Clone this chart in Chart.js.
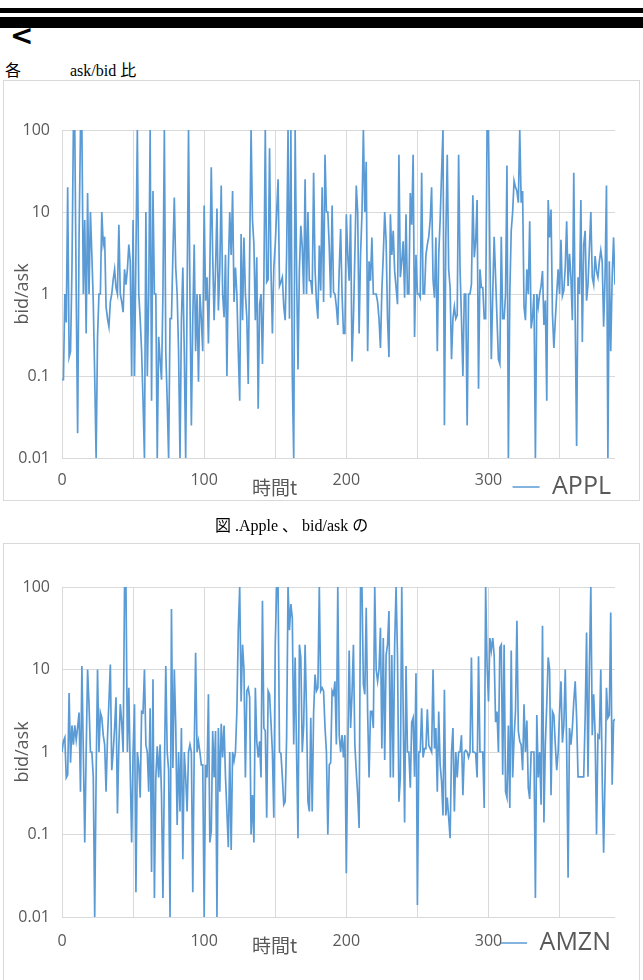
<!DOCTYPE html>
<html>
<head>
<meta charset="utf-8">
<script src="https://cdn.jsdelivr.net/npm/chart.js@4.4.1/dist/chart.umd.min.js"></script>
<style>
    html, body { margin: 0; padding: 0; background: #fff; width: 643px; height: 980px; overflow: hidden; position: relative; }
    .bar { position: absolute; left: 0; width: 643px; background: #000; }
    .box { position: absolute; left: 3px; width: 635px; border: 1px solid #d9d9d9; }
    canvas { position: absolute; }
    .txt { position: absolute; white-space: nowrap; font-family: "Liberation Serif", "Noto Sans CJK JP", serif; color: #000; }
    .axt { position: absolute; white-space: nowrap; color: #595959; font: 19px "Noto Sans CJK JP", "Open Sans", sans-serif; }
</style>
</head>
<body>
<div class="bar" style="top:8px;height:5px"></div>
<div class="bar" style="top:17px;height:11px"></div>
<div class="txt" style="left:10px;top:19px;font-size:28px;font-weight:bold;font-family:'DejaVu Sans',sans-serif">&lt;</div>
<div class="txt" style="left:5px;top:57px;font-size:16px">各</div>
<div class="txt" style="left:70px;top:57px;font-size:16px">ask/bid 比</div>

<div class="box" style="top:80px;height:419px"></div>
<canvas id="applChart" style="left:4px;top:81px" width="635" height="450"></canvas>
<div class="axt" style="left:252px;top:473px">時間t</div>

<div class="txt" style="left:215px;top:512px;font-size:16px">図 .Apple 、 bid/ask の</div>

<div class="box" style="top:543px;height:450px"></div>
<canvas id="amznChart" style="left:4px;top:544px" width="635" height="450"></canvas>
<div class="axt" style="left:252px;top:931px">時間t</div>

<script>
// bid/ask ratio per time step t
const applValues = [
    0.09, 0.09, 1, 0.45, 20, 0.17, 0.2, 2, 100, 100,
    1, 0.02, 5, 100, 100, 1, 8, 0.33, 17, 1,
    10, 3, 0.8, 0.1, 0.01, 0.3, 1, 1, 10, 4,
    5, 0.7, 0.5, 0.4, 0.8, 1, 1.5, 2, 1.2, 1,
    7, 1, 0.8, 0.6, 2, 1.3, 2, 4, 2.5, 0.1,
    8, 0.1, 3, 100, 1, 0.5, 0.2, 0.05, 0.01, 10,
    0.1, 1, 100, 0.05, 18, 1, 1, 0.01, 0.3, 0.16,
    0.09, 1, 100, 0.2, 0.05, 0.01, 0.5, 0.5, 3, 15,
    2.1, 1, 0.2, 0.01, 0.48, 2.1, 0.2, 0.01, 1, 100,
    1, 0.025, 0.5, 4, 0.2, 1, 0.085, 1, 0.5, 0.2,
    12, 0.83, 1.6, 0.25, 2, 35, 3, 0.48, 2, 11,
    0.63, 2, 21, 1, 0.52, 3, 0.1, 2, 10, 3,
    18, 0.8, 2.1, 1, 0.2, 0.05, 5.4, 0.48, 4.9, 1,
    0.52, 0.08, 3, 100, 8, 4, 0.48, 2.8, 0.04, 0.75,
    1, 0.14, 1.4, 100, 1.4, 1.5, 60, 2, 0.33, 2.1,
    4, 10, 25, 1.25, 1.4, 1.6, 0.7, 0.48, 3, 100,
    0.5, 100, 0.1, 0.01, 100, 2, 0.12, 2, 6.8, 3.7,
    1, 25, 1, 10, 1.45, 1.45, 1, 30, 2, 0.8,
    0.5, 3.9, 1.1, 20, 0.8, 50, 10, 10, 3.7, 0.9,
    12, 1.05, 1, 0.7, 0.42, 2, 6.2, 1, 0.33, 0.33,
    9.4, 3, 1.45, 9.4, 0.15, 0.5, 3, 21, 10, 0.33,
    3, 9.4, 100, 10, 41, 0.2, 2.5, 1.45, 4.9, 1,
    1, 1, 0.8, 0.5, 0.22, 1.1, 3, 10, 4.4, 0.5,
    0.17, 9.4, 3, 5.9, 1.9, 1.2, 0.75, 50, 1.6, 2.5,
    4.4, 0.9, 9.4, 1, 1, 17, 7, 50, 0.3, 3,
    1, 1, 0.9, 30, 1, 1, 3, 4, 5, 8,
    20, 1.5, 0.9, 4.9, 0.2, 3, 8, 30, 100, 0.025,
    5, 50, 2, 1.2, 0.16, 0.5, 0.7, 0.5, 0.55, 50,
    2, 0.5, 0.1, 1, 1, 0.025, 1, 1, 1.3, 16,
    2.8, 4.4, 14, 0.07, 2, 1.2, 1.2, 0.5, 0.5, 100,
    100, 3, 0.16, 1, 5, 1.6, 0.5, 0.16, 0.14, 5,
    0.5, 0.5, 1, 37, 0.01, 1, 5.9, 10, 24, 20,
    18, 13, 100, 13, 18, 0.7, 0.48, 2, 1, 7.7,
    0.38, 0.52, 1, 0.01, 1, 0.7, 1, 1.25, 1.9, 0.42,
    0.83, 0.05, 14, 4.9, 10.7, 0.57, 0.22, 0.48, 1, 2,
    1, 4.6, 0.95, 1.1, 2.1, 7.7, 1.25, 3.1, 1.6, 0.48,
    30, 0.5, 0.014, 1.6, 1, 14, 0.26, 4, 5.9, 0.83,
    1.3, 3.7, 10, 1.6, 1.3, 2.9, 1.9, 1.6, 2.5, 3.4,
    2.5, 0.4, 1.6, 21, 0.01, 2.5, 0.2, 1.6, 4.9, 1.3
];

const amznValues = [
    1, 1.35, 1.5, 0.49, 0.53, 5.2, 0.74, 2.1, 1.23, 2.1,
    1.4, 2, 3, 0.33, 11, 1, 0.08, 1, 10, 3.8,
    1, 1, 0.5, 0.01, 0.5, 10, 1, 3, 2.6, 1.6,
    1.23, 0.33, 1.5, 4, 11.5, 0.6, 1, 1.95, 4.6, 0.18,
    1.23, 3.8, 2.3, 1, 100, 100, 1, 6, 0.58, 0.08,
    1, 3.8, 0.02, 1, 0.7, 0.28, 3.1, 3, 10, 1.23,
    1, 0.33, 3.4, 0.035, 7.6, 0.017, 0.49, 1.17, 0.49, 1.23,
    0.3, 0.017, 0.53, 11, 1, 0.6, 0.01, 54, 0.64, 10,
    2.1, 0.13, 1, 0.19, 1.95, 0.05, 1, 0.49, 0.19, 1,
    1.23, 1, 0.02, 1, 16, 1, 1.35, 1, 0.7, 0.7,
    0.01, 0.7, 0.49, 5, 0.08, 0.11, 1.8, 0.49, 1.8, 0.01,
    1.95, 0.33, 2.2, 0.86, 2.1, 0.5, 0.19, 0.07, 1, 0.065,
    1, 0.78, 1, 3.1, 30, 100, 4.1, 20, 10, 0.49,
    5.5, 6, 4.6, 0.1, 0.3, 0.08, 6, 1.35, 0.86, 1.35,
    0.49, 68, 1.95, 1.8, 0.16, 5.5, 5, 2.3, 1, 0.16,
    20, 100, 100, 1, 0.96, 0.5, 0.23, 0.25, 1.5, 100,
    30, 62, 42, 1.23, 14, 1, 0.09, 20, 14, 1,
    2.1, 20, 3.1, 0.25, 0.19, 2.6, 0.19, 3, 8.7, 5.5,
    6, 100, 5.5, 6, 5.5, 2, 1, 0.1, 0.7, 0.74,
    5.5, 5, 7.2, 1.23, 100, 1.6, 1, 1.6, 0.86, 1.6,
    0.034, 1, 17, 1.95, 5, 20, 1.23, 0.58, 0.3, 0.12,
    100, 100, 6.6, 5, 56, 3, 0.49, 3.1, 3.1, 1.95,
    100, 10, 7.2, 10, 32, 1.1, 24, 0.8, 15, 20,
    51, 0.49, 15, 0.49, 20, 100, 14.5, 0.25, 0.49, 100,
    3.1, 0.14, 11, 1, 1, 0.37, 2.3, 2.6, 0.5, 9,
    0.014, 1, 1, 3.4, 0.86, 1.1, 1.1, 3.3, 1.2, 1.1,
    1, 10, 1.1, 1.95, 0.33, 3.1, 0.7, 0.44, 0.17, 5.7,
    0.17, 0.28, 0.16, 0.09, 1, 1.95, 0.19, 1, 0.49, 1,
    1, 1.6, 0.3, 1, 1.05, 1, 0.86, 1, 14, 1,
    1, 0.96, 0.49, 14.5, 1, 1, 1, 0.21, 100, 11.5,
    4.1, 24, 17, 24, 15, 2.3, 3.1, 1, 18.5, 20,
    0.53, 20, 0.33, 0.28, 2.1, 0.21, 17, 0.49, 1.5, 3.1,
    39, 1.8, 1.35, 1.23, 0.6, 3.8, 1, 2.4, 0.37, 0.27,
    1, 1, 1, 0.017, 2.8, 0.49, 1, 0.23, 34, 0.14,
    1.23, 3.8, 14, 10, 0.3, 3.1, 2.8, 1.23, 0.6, 1,
    3.1, 7.2, 1.3, 2.1, 10, 1.23, 0.03, 1.95, 1.23, 1.95,
    4.1, 7.2, 2.6, 0.5, 0.5, 0.5, 0.5, 0.5, 2.6, 28,
    0.5, 11.5, 100, 1.6, 5, 1.7, 0.1, 1.6, 1.5, 10,
    0.49, 0.06, 0.49, 6, 2.6, 2.8, 49, 0.4, 2.4, 2.5
];

// axis ticks
const yTicks = [0.01, 0.1, 1, 10, 100];
const yTickLabels = ['0.01', '0.1', '1', '10', '100'];
const xGridLines = [0, 50, 100, 150, 200, 250, 300, 350];
const xTickLabels = ['0', '', '100', '', '200', '', '300', ''];
const xMax = 389;

const lineColor = '#5B9BD5';
const gridColor = '#D9D9D9';
const textColor = '#595959';
const fontFamily = '"Open Sans", "Noto Sans CJK JP", sans-serif';

// Excel puts the legend on the same row as the x tick labels
const legendRow = {
    id: 'legendRow',
    afterLayout(chart, args, opts) {
        const lg = chart.legend;
        const h = lg.bottom - lg.top;
        lg.top = chart.chartArea.bottom + opts.gap;
        lg.bottom = lg.top + h;
    }
};

// build one bid/ask chart
function makeChart(id, name, values, layout) {
    const points = values.map((v, i) => ({ x: i, y: v }));
    return new Chart(document.getElementById(id), {
        type: 'line',
        data: {
            datasets: [{
                label: name,
                data: points,
                borderColor: lineColor,
                backgroundColor: lineColor,
                borderWidth: 1.7,
                pointRadius: 0,
                tension: 0
            }]
        },
        plugins: [legendRow],
        options: {
            responsive: false,
            animation: false,
            events: [],
            layout: { padding: { top: layout.top, right: 24, left: 0, bottom: layout.bottom } },
            plugins: {
                tooltip: { enabled: false },
                legendRow: { gap: layout.legendGap },
                legend: {
                    position: 'bottom',
                    align: 'end',
                    labels: {
                        color: textColor,
                        font: { family: fontFamily, size: 25 },
                        boxWidth: 27,
                        boxHeight: 0,
                        padding: 4
                    }
                }
            },
            scales: {
                x: {
                    type: 'linear',
                    min: 0,
                    max: xMax,
                    afterFit: (s) => { s.height = layout.xh; },
                    afterBuildTicks: (s) => { s.ticks = xGridLines.map(v => ({ value: v })); },
                    ticks: {
                        autoSkip: false,
                        maxRotation: 0,
                        padding: layout.xpad,
                        color: textColor,
                        font: { family: fontFamily, size: 16 },
                        callback: (v) => xTickLabels[xGridLines.indexOf(v)]
                    },
                    grid: { color: gridColor, drawTicks: false },
                    border: { display: false }
                },
                y: {
                    type: 'logarithmic',
                    min: 0.01,
                    max: 100,
                    afterFit: (s) => { s.width = 58; },
                    afterBuildTicks: (s) => { s.ticks = yTicks.map(v => ({ value: v })); },
                    ticks: {
                        padding: 12,
                        color: textColor,
                        font: { family: fontFamily, size: 16 },
                        callback: (v) => yTickLabels[yTicks.indexOf(v)]
                    },
                    grid: { color: gridColor, drawTicks: false },
                    border: { display: false },
                    title: {
                        display: true,
                        text: 'bid/ask',
                        color: textColor,
                        font: { family: fontFamily, size: 18 },
                        padding: { top: 8, bottom: 0 }
                    }
                }
            }
        }
    });
}

makeChart('applChart', 'APPL', applValues, { top: 49, bottom: 0, xh: 34, xpad: 13, legendGap: 12.5 });
makeChart('amznChart', 'AMZN', amznValues, { top: 43, bottom: 2, xh: 36, xpad: 15, legendGap: 9.5 });
</script>
</body>
</html>
